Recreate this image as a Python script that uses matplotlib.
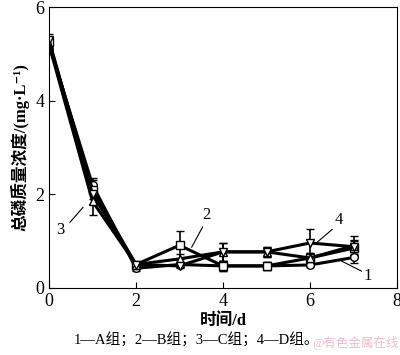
import matplotlib
matplotlib.use('Agg')
import matplotlib.pyplot as plt

plt.rcParams['font.family'] = ['Liberation Serif', 'Noto Sans CJK SC', 'DejaVu Sans']

# 时间/d
days = [0, 1, 2, 3, 4, 5, 6, 7]

# 总磷质量浓度 (mg/L)
s1 = [5.20, 2.20, 0.42, 0.50, 0.47, 0.47, 0.49, 0.65]
s2 = [5.25, 2.10, 0.50, 0.91, 0.47, 0.47, 0.64, 0.85]
s3 = [5.20, 1.85, 0.50, 0.62, 0.77, 0.77, 0.64, 0.90]
s4 = [5.30, 2.00, 0.50, 0.47, 0.77, 0.77, 0.96, 0.88]

e1 = [0.12, 0.15, 0.05, 0.05, 0.10, 0.08, 0.05, 0.12]
e2 = [0.12, 0.20, 0.05, 0.30, 0.10, 0.08, 0.10, 0.15]
e3 = [0.12, 0.30, 0.05, 0.10, 0.20, 0.10, 0.10, 0.20]
e4 = [0.12, 0.20, 0.05, 0.05, 0.20, 0.10, 0.30, 0.15]

series = [s1, s2, s3, s4]
errors = [e1, e2, e3, e4]
markers = ['o', 's', '^', 'v']

fig = plt.figure(figsize=(4, 3.55), dpi=100)
ax = fig.add_axes([0.1225, 0.189, 0.87, 0.791])

for y, e, m in zip(series, errors, markers):
    ax.errorbar(days, y, yerr=e, color='black', lw=2.2, marker=m, ms=5.5,
                mfc='white', mec='black', mew=1.0, capsize=3, elinewidth=1.2,
                capthick=1.2)

# 标注
ax.plot([0.48, 0.78], [1.40, 1.72], color='black', lw=0.8)
ax.text(0.27, 1.23, '3', fontsize=12, ha='center', va='center')
ax.plot([3.28, 3.53], [0.87, 1.30], color='black', lw=0.8)
ax.text(3.62, 1.55, '2', fontsize=12, ha='center', va='center')
ax.plot([6.17, 6.51], [0.98, 1.25], color='black', lw=0.8)
ax.text(6.67, 1.45, '4', fontsize=12, ha='center', va='center')
ax.plot([6.67, 7.18], [0.60, 0.36], color='black', lw=0.8)
ax.text(7.32, 0.26, '1', fontsize=12, ha='center', va='center')

ax.set_xlim(0, 8)
ax.set_ylim(0, 6)
ax.set_xticks([0, 2, 4, 6, 8])
ax.set_yticks([0, 2, 4, 6])
ax.tick_params(direction='in', labelsize=13, length=4, top=False, right=False)
ax.set_xlabel('时间/d', fontsize=12, fontweight='bold', labelpad=2)
ax.set_ylabel('总磷质量浓度/(mg·L⁻¹)', fontsize=12, fontweight='bold', labelpad=4)

fig.text(0.49, 0.02, '1—A组；2—B组；3—C组；4—D组。', fontsize=10.5,
         ha='center', va='bottom')
fig.text(0.997, 0.015, '@有色金属在线', fontsize=9, color='#e8a0b0', alpha=0.7,
         ha='right', va='bottom')

fig.savefig('out.png', dpi=100)
